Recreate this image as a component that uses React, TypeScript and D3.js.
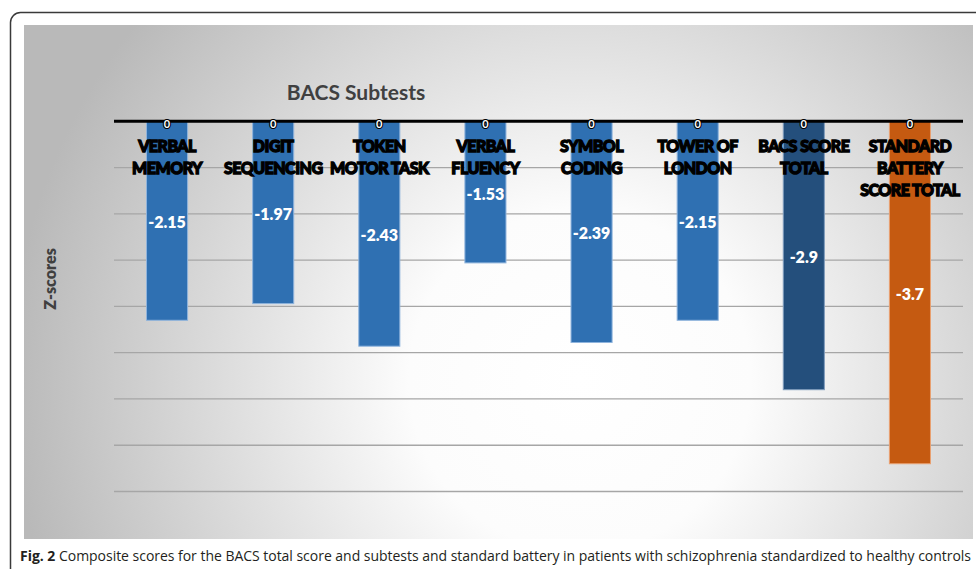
import React from "react";
import * as d3 from "d3";

// ---- data ----
const categories: string[][] = [
  ["VERBAL", "MEMORY"],
  ["DIGIT", "SEQUENCING"],
  ["TOKEN", "MOTOR TASK"],
  ["VERBAL", "FLUENCY"],
  ["SYMBOL", "CODING"],
  ["TOWER OF", "LONDON"],
  ["BACS SCORE", "TOTAL"],
  ["STANDARD", "BATTERY", "SCORE TOTAL"],
];
const values: number[] = [-2.15, -1.97, -2.43, -1.53, -2.39, -2.15, -2.9, -3.7];
const valueLabels: string[] = ["-2.15", "-1.97", "-2.43", "-1.53", "-2.39", "-2.15", "-2.9", "-3.7"];
const gridTicks: number[] = [-0.5, -1, -1.5, -2, -2.5, -3, -3.5, -4];
const chartTitle = "BACS Subtests";
const yTitle = "Z-scores";
const captionBold = "Fig. 2";
const captionText =
  " Composite scores for the BACS total score and subtests and standard battery in patients with schizophrenia standardized to healthy controls";

// ---- styles ----
const W = 976;
const H = 569;
const barKind = ["sub", "sub", "sub", "sub", "sub", "sub", "bacs", "std"];
const kindColor: Record<string, string> = {
  sub: "#2F70B2",
  bacs: "#244F7C",
  std: "#C55A11",
};
const kindStroke: Record<string, string> = {
  sub: "#8FB4DD",
  bacs: "#7F9CBD",
  std: "#E9A070",
};

export default function App() {
  const keys = categories.map((c, i) => String(i));
  const x = d3
    .scaleBand<string>()
    .domain(keys)
    .range([114, 963])
    .paddingInner(0.613)
    .paddingOuter(0.3065);
  const y = d3.scaleLinear().domain([0, -4]).range([121.3, 491.5]);
  const bw = x.bandwidth();

  return (
    <svg
      width={W}
      height={H}
      style={{ position: "absolute", left: 0, top: 0, display: "block" }}
      fontFamily="Lato, 'Open Sans', sans-serif"
    >
      <defs>
        <radialGradient
          id="bg"
          gradientUnits="userSpaceOnUse"
          cx={580}
          cy={380}
          r={570}
        >
          <stop offset="0" stopColor="#ffffff" />
          <stop offset="0.3" stopColor="#fcfcfc" />
          <stop offset="1" stopColor="#b9b9b9" />
        </radialGradient>
      </defs>
      <rect x={0} y={0} width={W} height={H} fill="#ffffff" />
      <rect
        x={10.5}
        y={12.5}
        width={1000}
        height={620}
        rx={10}
        fill="#ffffff"
        stroke="#3a3a3a"
        strokeWidth={1.5}
      />
      {/* chart panel */}
      <rect x={24} y={25} width={949} height={514} fill="url(#bg)" />

      {/* gridlines */}
      {gridTicks.map((t) => (
        <line
          key={t}
          x1={114}
          x2={963}
          y1={y(t)}
          y2={y(t)}
          stroke="#a6a6a6"
          strokeWidth={1.3}
        />
      ))}

      {/* bars */}
      {values.map((v, i) => {
        const k = barKind[i];
        const x0 = x(String(i))!;
        return (
          <rect
            key={i}
            x={x0}
            y={y(0)}
            width={bw}
            height={y(v) - y(0)}
            fill={kindColor[k]}
            stroke={kindStroke[k]}
            strokeWidth={1}
          />
        );
      })}

      {/* zero axis */}
      <line x1={114} x2={963} y1={y(0)} y2={y(0)} stroke="#000" strokeWidth={3} />

      {/* zero labels */}
      {values.map((v, i) => (
        <text
          key={"z" + i}
          x={x(String(i))! + bw / 2}
          y={y(0) + 2}
          textAnchor="middle"
          dominantBaseline="central"
          fontSize={11}
          fontWeight={700}
          fill="#ffffff"
          stroke="#000"
          strokeWidth={2.2}
          paintOrder="stroke"
        >
          0
        </text>
      ))}

      {/* category labels */}
      {categories.map((lines, i) => (
        <text
          key={"c" + i}
          x={x(String(i))! + bw / 2}
          textAnchor="middle"
          fontSize={16}
          fontWeight={900}
          fill="#000"
          stroke="#000"
          strokeWidth={1.3}
          letterSpacing={-0.5}
        >
          {lines.map((l, j) => (
            <tspan key={j} x={x(String(i))! + bw / 2} y={151.5 + j * 22.3}>
              {l}
            </tspan>
          ))}
        </text>
      ))}

      {/* value labels */}
      {values.map((v, i) => (
        <text
          key={"v" + i}
          x={x(String(i))! + bw / 2}
          y={(y(0) + y(v)) / 2 + 1}
          textAnchor="middle"
          dominantBaseline="central"
          fontSize={16}
          fontWeight={800}
          fill="#ffffff"
        >
          {valueLabels[i]}
        </text>
      ))}

      {/* title */}
      <text x={356} y={100} textAnchor="middle" fontSize={21} fontWeight={700} fill="#404040">
        {chartTitle}
      </text>

      {/* y title */}
      <text
        transform={`translate(56, 279) rotate(-90)`}
        textAnchor="middle"
        fontSize={16}
        fontWeight={800}
        fill="#404040"
      >
        {yTitle}
      </text>

      {/* caption */}
      <text
        x={20}
        y={561}
        fontSize={14}
        fill="#231f20"
        fontFamily="'Open Sans', sans-serif"
        textLength={951}
        lengthAdjust="spacing"
      >
        <tspan fontWeight={700}>{captionBold}</tspan>
        <tspan fontWeight={400}>{captionText}</tspan>
      </text>
    </svg>
  );
}
